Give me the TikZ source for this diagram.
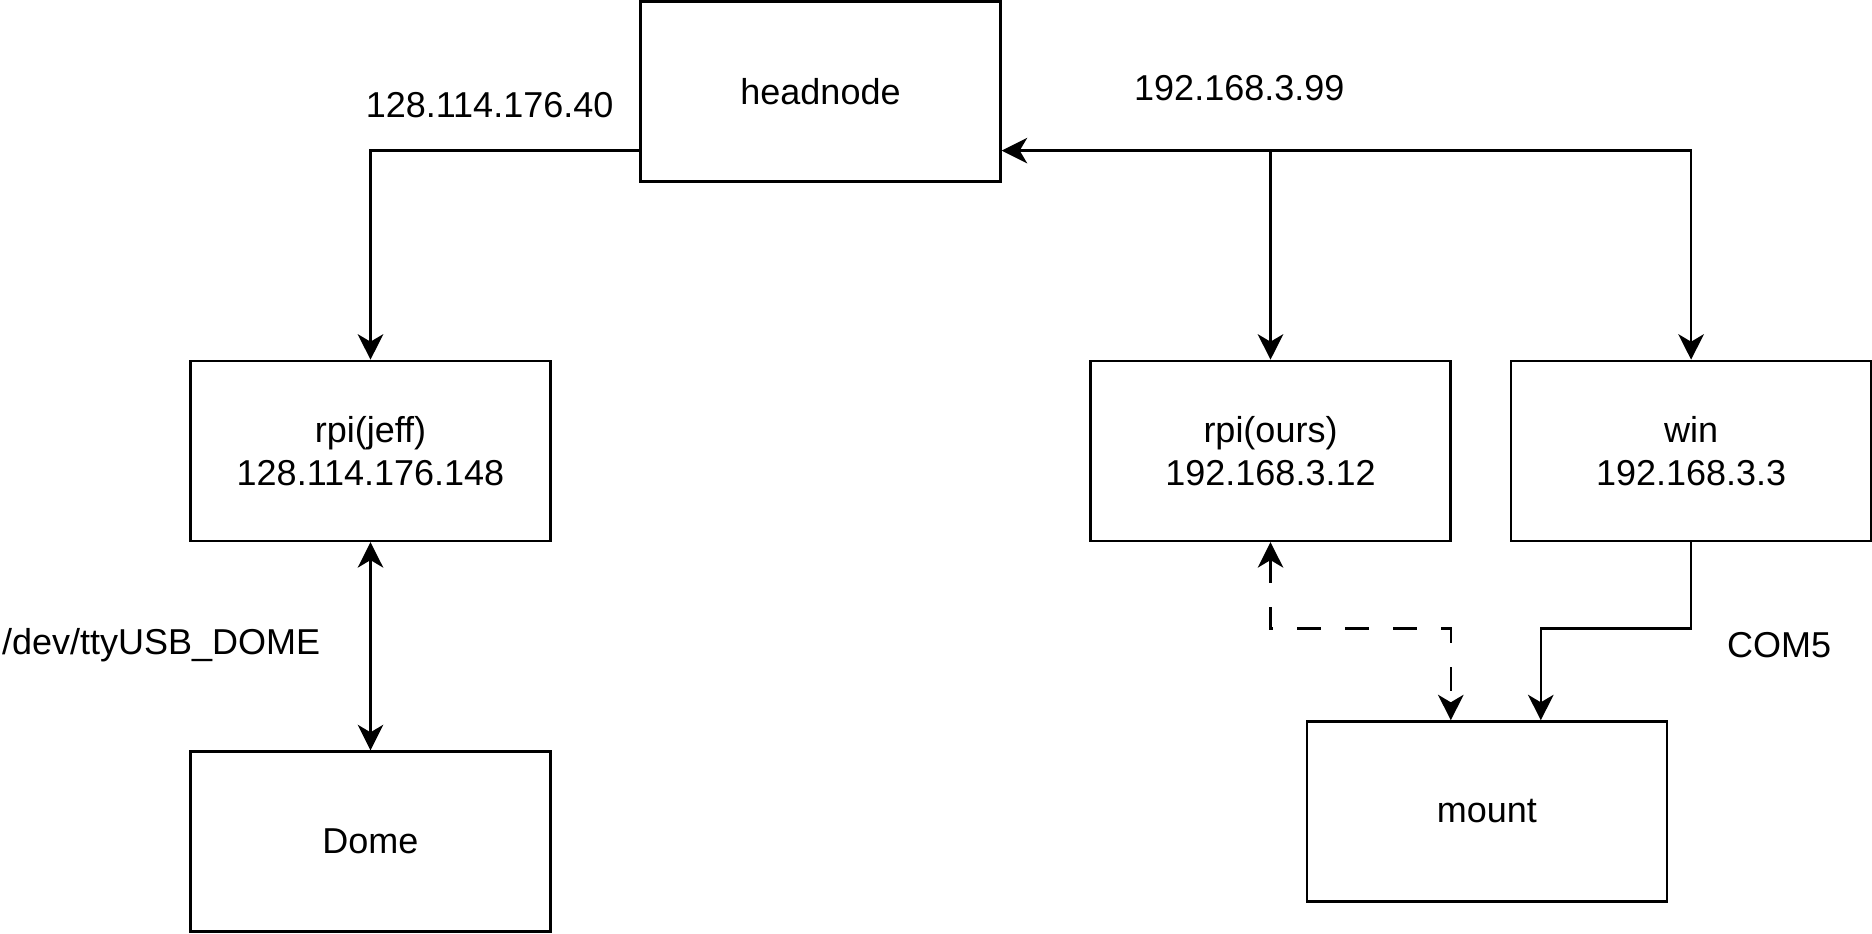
\documentclass[tikz,border=0pt]{standalone}
\usepackage{fontspec}
\setmainfont{Liberation Sans}
\usetikzlibrary{arrows.meta,calc}

\begin{document}
\begin{tikzpicture}[x=1pt, y=-1pt, line width=0.8pt,
    >={Stealth[length=8.5pt,width=8.5pt,inset=2.5pt]},
    every node/.style={font=\fontsize{12}{14.4}\selectfont},
    box/.style={draw, minimum width=120pt, minimum height=60pt, inner sep=0pt, align=center},
    dashline/.style={dash pattern=on 8pt off 8pt}]
            \useasboundingbox (0,0) rectangle (624,311);  %Rand
            \node [box] (head) at (273.5,30.5) {headnode};
            \node [box] (jeff) at (123.5,150.3) {rpi(jeff)\\128.114.176.148};
            \node [box] (dome) at (123.5,280.5) {Dome};
            \node [box] (ours) at (423.5,150.3) {rpi(ours)\\192.168.3.12};
            \node [box] (win) at (563.7,150.3) {win\\192.168.3.3};
            \node [box] (mount) at (495.6,270.5) {mount};
            \coordinate (bus) at (0,50.2);         %Leitung oben
            \coordinate (dashK) at ($(mount.north)+(-12,-30.6)$);
            \coordinate (winK) at ($(mount.north)+(18,-30.6)$);
            \draw [->] (head.west |- bus) -| (jeff.north);
            \draw [<->] (head.east |- bus) -| (win.north);
            \draw [->] (ours.north |- bus) -- (ours.north);
            \draw [<->] (jeff.south) -- (dome.north);
            \draw [->] (win.south) |- (winK) -- (winK |- mount.north);
            \draw [<->, dashline] (ours.south) |- (dashK) -- (dashK |- mount.north);
            \node (ipJeff) at (163.2,35) {128.114.176.40};
            \node (ipHead) at (413.1,29.5) {192.168.3.99};
            \node [anchor=west, inner sep=0pt] (usb) at (0.3,215) {/dev/ttyUSB\_DOME};
            \node (com) at (593,215) {COM5};
        \end{tikzpicture}
\end{document}
